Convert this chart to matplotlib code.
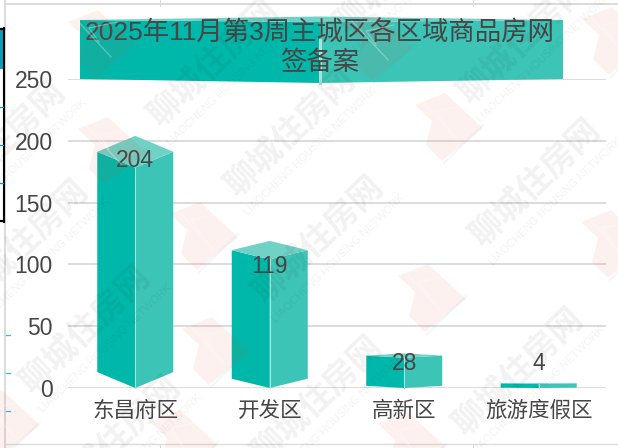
import numpy as np
import matplotlib
matplotlib.use('Agg')
import matplotlib.pyplot as plt
from matplotlib.patches import Polygon

#字体
plt.rcParams['font.family'] = ['Liberation Sans', 'Noto Sans CJK SC', 'DejaVu Sans']

#数据
districts = ['东昌府区', '开发区', '高新区', '旅游度假区']
deals = [204, 119, 28, 4]
y_ticks = [0, 50, 100, 150, 200, 250]
title_text = '2025年11月第3周主城区各区域商品房网\n签备案'

#样式
text_color = '#464646'
grid_color = '#d6d6d6'
left_color = '#00b8a9'
right_color = '#3cc4b6'
top_color = '#70d1c5'
edge_light = '#a5e3dc'
bar_width = 0.565
depth_ratio = 0.063
label_shift_px = [-25, -26, -10, 20]

W, H = 618, 448
fig = plt.figure(figsize=(W / 100, H / 100), dpi=100)
ax = fig.add_axes([68 / W, 1 - 388 / H, (606 - 68) / W, (388 - 79) / H])
ax.set_xlim(-0.5, 3.5)
ax.set_ylim(0, 250)
ax.set_xticks(range(len(districts)))
ax.set_xticklabels(districts, fontsize=15.5, color=text_color)
ax.set_yticks(y_ticks)
ax.tick_params(axis='both', length=0, labelcolor=text_color)
ax.tick_params(axis='y', labelsize=16.5, pad=11)
ax.tick_params(axis='x', pad=9)
ax.grid(axis='y', color=grid_color, linewidth=1.2)
ax.set_axisbelow(True)
for s in ax.spines.values():
    s.set_visible(False)


#伪3D柱子
def prism(a, x, v, w, d, z=3):
    l, r = x - w / 2, x + w / 2
    a.add_patch(Polygon([(l, d), (x, 0), (x, v - 2 * d), (l, v - d)], fc=left_color, ec='none', zorder=z, clip_on=False))
    a.add_patch(Polygon([(x, 0), (r, d), (r, v - d), (x, v - 2 * d)], fc=right_color, ec='none', zorder=z, clip_on=False))
    a.add_patch(Polygon([(l, v - d), (x, v), (r, v - d), (x, v - 2 * d)], fc=top_color, ec='none', zorder=z, clip_on=False))
    a.plot([x, x], [0, v - 2 * d], color=edge_light, lw=0.8, zorder=z + 0.1, clip_on=False)


for i, v in enumerate(deals):
    prism(ax, i, v, bar_width, v * depth_ratio)
    ax.annotate(str(v), (i, v), xytext=(0, label_shift_px[i] * 0.72), textcoords='offset points',
                ha='center', va='center', fontsize=16.5, color=text_color, zorder=6)

#覆盖层，用像素坐标画标题和水印
ov = fig.add_axes([0, 0, 1, 1], zorder=5)
ov.set_xlim(0, W)
ov.set_ylim(H, 0)
ov.axis('off')

#标题条
ov.add_patch(Polygon([(80, 20), (320, 22), (320, 83), (80, 79)], fc=left_color, ec='none', zorder=1))
ov.add_patch(Polygon([(320, 22), (563, 20), (563, 79), (320, 83)], fc=right_color, ec='none', zorder=1))
ov.add_patch(Polygon([(80, 20), (320, 16.5), (563, 20), (320, 22)], fc=top_color, ec='none', zorder=1))
ov.plot([320, 320], [40, 83], color=edge_light, lw=2.2, zorder=1.1)
ov.text(320, 33, title_text.split('\n')[0], ha='center', va='center', fontsize=19, color=text_color, zorder=2)
ov.text(320, 63, title_text.split('\n')[1], ha='center', va='center', fontsize=19, color=text_color, zorder=2)

#左边和上下的截图残留
ov.plot([5, 5], [0, H], color='#dcdcdc', lw=1.4, zorder=0.5)
ov.plot([5, W], [4.5, 4.5], color='#dcdcdc', lw=1.4, zorder=0.5)
ov.plot([5, W], [444, 444], color='#dcdcdc', lw=1.0, zorder=0.5)
for xt in [160, 473]:
    ov.plot([xt, xt], [0, 6], color='#dcdcdc', lw=0.8, zorder=0.5)
    ov.plot([xt, xt], [444, H], color='#dcdcdc', lw=0.8, zorder=0.5)
ov.add_patch(Polygon([(0, 30), (3, 30), (3, 69), (0, 69)], fc='#0a9fb5', ec='none'))
ov.plot([0, 4], [29, 29], color='black', lw=1.6)
ov.plot([0, 4], [221, 221], color='black', lw=1.6)
ov.plot([3.8, 3.8], [28, 222], color='black', lw=1.5)
for yt in [107, 145, 183]:
    ov.plot([0, 3], [yt, yt], color='#0a9fb5', lw=0.9)
for yt in [335, 373, 411]:
    ov.plot([6, 10], [yt, yt], color='#35bcd6', lw=0.9)


#红色水印图标
def logo(cx, cy):
    ov.add_patch(Polygon([(cx - 35, cy - 18), (cx - 5, cy - 30), (cx + 33, cy + 5), (cx - 8, cy + 38), (cx - 24, cy + 22), (cx - 18, cy - 2)],
                         fc='#f04a3c', alpha=0.075, ec='none', zorder=3))
    ov.plot([cx - 28, cx + 8], [cy - 22, cy + 17], color='white', lw=0.9, alpha=0.3, zorder=3.1)
    ov.plot([cx - 4, cx - 14, cx + 14], [cy + 2, cy - 12, cy - 18], color='white', lw=0.9, alpha=0.3, zorder=3.1)
    ov.plot([cx - 6, cx + 33], [cy + 40, cy + 2], color='#4a9fd8', lw=1.6, alpha=0.07, zorder=3)


for c in [(450, 123), (433, 294), (217, 347), (205, 232), (103, 40), (113, 147), (380, 43),
          (7, 420), (617, 37), (616, 240), (413, 442), (185, 440)]:
    logo(*c)

#灰色水印文字
for cx, cy in [(0, 145), (23, 244), (85, 330), (115, 440), (213, 63), (290, 133), (318, 240),
               (317, 400), (523, 40), (535, 183), (518, 372), (400, -30)]:
    ov.text(cx, cy, '聊城住房网', rotation=44, rotation_mode='anchor', ha='center', va='center',
            fontsize=24, fontweight='bold', color='black', alpha=0.055, family='Noto Sans CJK SC', zorder=4)
    ov.text(cx + 21, cy + 18, 'LIAOCHENG HOUSING NETWORK', rotation=44, rotation_mode='anchor',
            ha='center', va='center', fontsize=8, color='black', alpha=0.05, zorder=4)

fig.savefig('out.png', dpi=100)
